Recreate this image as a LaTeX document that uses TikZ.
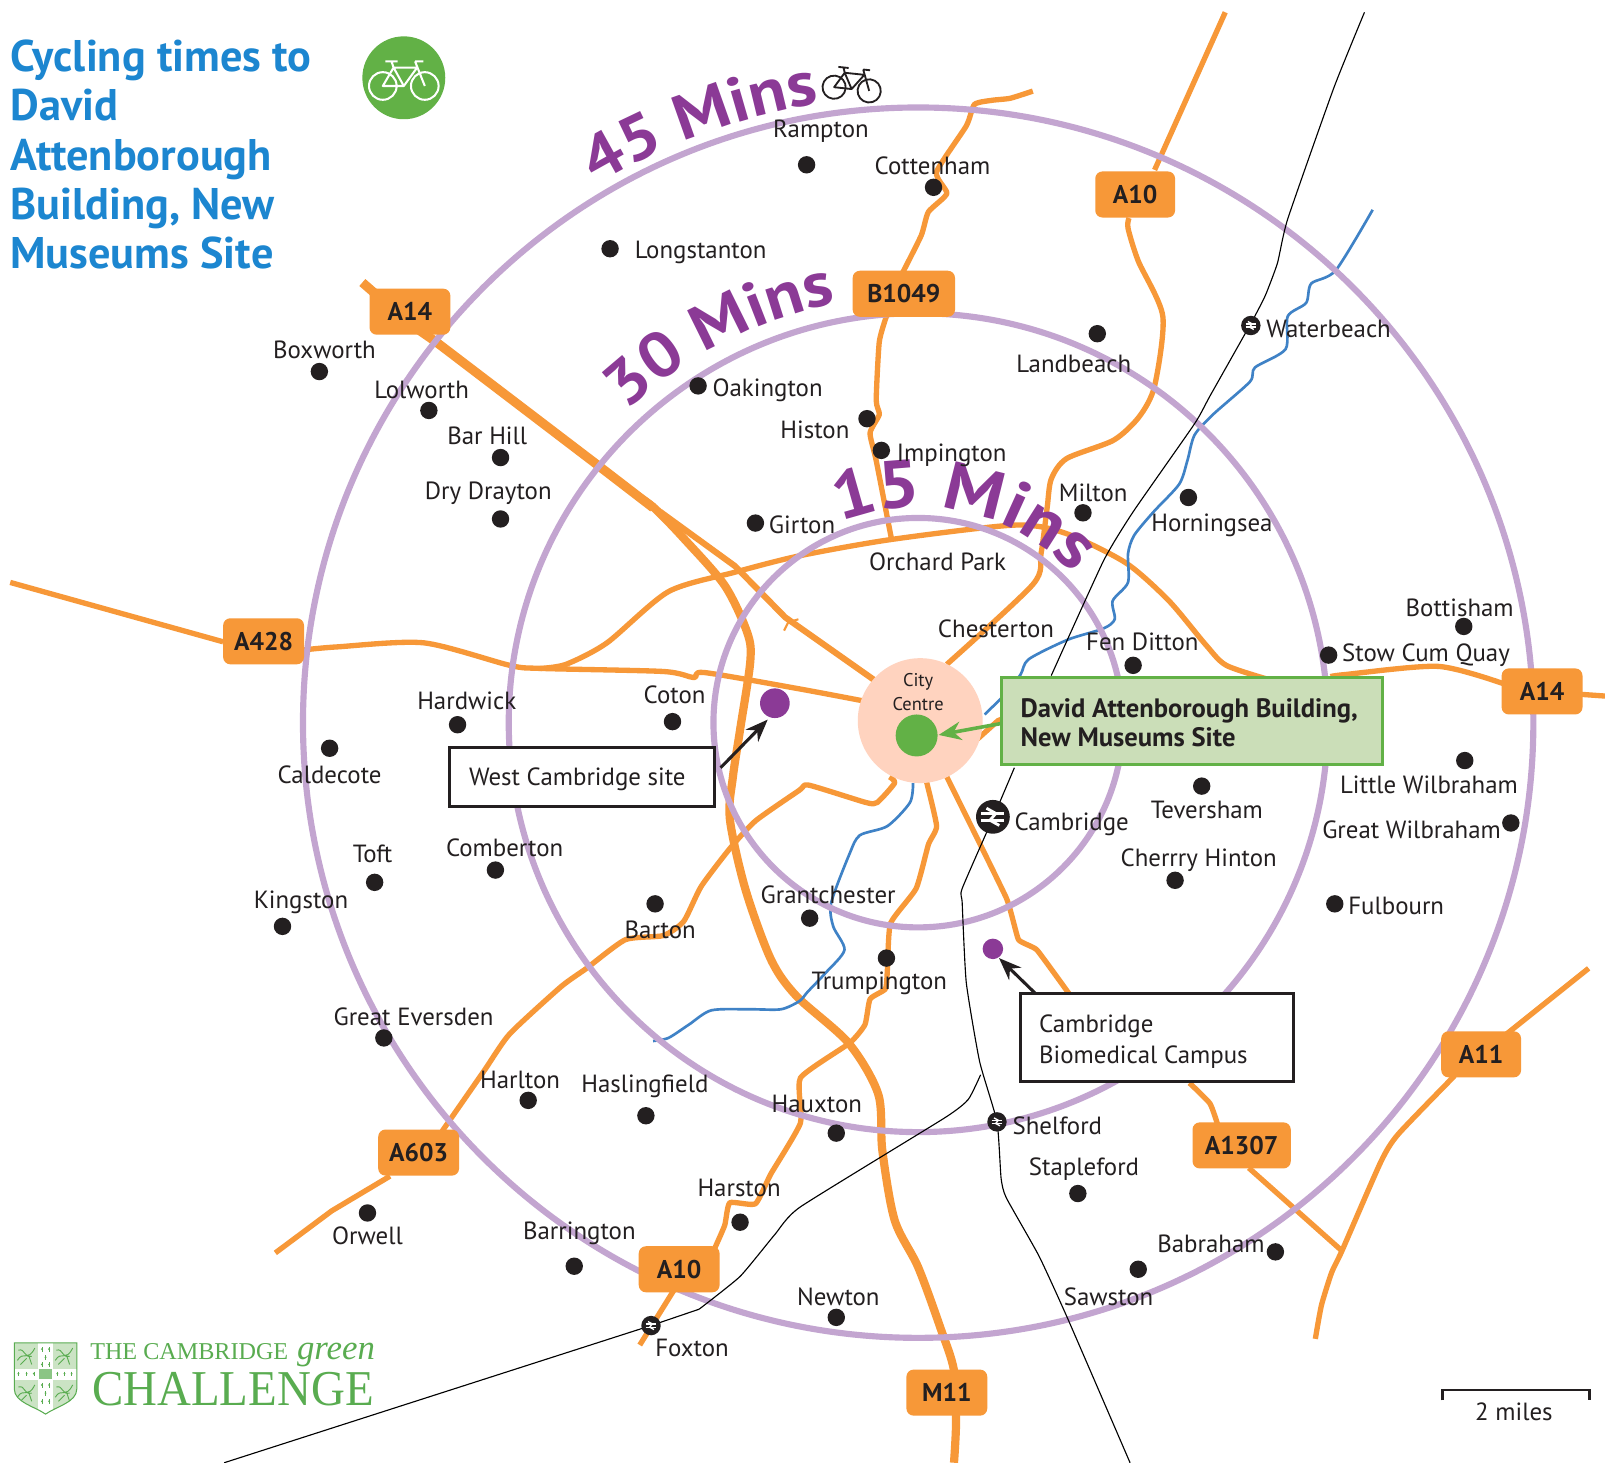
\documentclass[tikz,border=0pt]{standalone}
\usepackage{fontspec}
\usepackage{graphicx}
\setmainfont{PT Sans}
\newfontfamily\logofont{Liberation Serif}
\newfontfamily\arcfont[FakeStretch=1.1]{PT Sans}
\usetikzlibrary{decorations.text,arrows.meta,calc}
\definecolor{roadc}{HTML}{F79838}
\definecolor{lav}{HTML}{C3A5D0}
\definecolor{riverc}{HTML}{3F82C6}
\definecolor{inkc}{HTML}{231F20}
\definecolor{purp}{HTML}{8B3A96}
\definecolor{titleb}{HTML}{1C86D0}
\definecolor{grn}{HTML}{62B146}
\definecolor{lgrn}{HTML}{CBDEB8}
\definecolor{peach}{HTML}{FFD3BF}
\definecolor{logog}{HTML}{59AC50}
\definecolor{logol}{HTML}{CBE3C4}
\tikzset{
  road/.style={draw=roadc,line width=5.2pt,line join=round},
  bigroad/.style={draw=roadc,line width=9pt,line join=round},
  ring/.style={draw=lav,line width=6pt},
  river/.style={draw=riverc,line width=2.6pt,line join=round},
  rail/.style={draw=black,line width=1.1pt,line join=round},
  town/.style={text=inkc,font=\fontsize{24.3}{26}\selectfont,inner sep=0pt,yshift=-1.5pt},
  tdotm/.style={circle,fill=inkc,minimum size=17pt,inner sep=0pt},
  shieldbox/.style={fill=roadc,rounded corners=7pt,text=inkc,font=\fontsize{25}{26}\selectfont\bfseries,inner sep=0pt,minimum height=45pt},
  callout/.style={draw=inkc,fill=white,line width=3pt,inner sep=0pt,text=inkc},
  leader/.style={draw=inkc,line width=3pt,-{Stealth[length=22pt,width=17pt]}},
  purpdot/.style={circle,fill=purp,inner sep=0pt},
  stn/.style={circle,fill=inkc,inner sep=0pt},
  pics/bike/.style={code={
    \draw[line width=#1] (-20.5,0) circle (13.5) (20.5,0) circle (13.5);
    \draw[line width=#1,line join=round] (-20.5,0) -- (-10,-18) -- (0,0) -- cycle
       (-10,-18) -- (13,-18) -- (0,0)
       (-12,-24) -- (-10,-18) (-18,-24) -- (-6,-24)
       (11,-24) -- (20.5,0) (11,-24) -- (19,-24);
  }},
  pics/brsym/.style={code={
    \draw[draw=white,line width=0.2*#1 pt] (-.8*#1,-.24*#1) -- (.8*#1,-.24*#1) (-.8*#1,.24*#1) -- (.8*#1,.24*#1);
    \draw[draw=white,line width=0.2*#1 pt,line join=miter] (-.45*#1,-.6*#1) -- (.2*#1,-.24*#1) -- (-.2*#1,.24*#1) -- (.45*#1,.6*#1);
  }}
}
\newcommand\twn[6]{% name, dot x, dot y, anchor, label pos, text
  \node[tdotm] (d#1) at (#2,#3) {};
  \node[town,anchor=#4] (t#1) at (#5) {#6};
}
\newcommand\stnlabel[5]{% name, anchor, x, y, text
  \node[town,anchor=#2] (#1) at (#3,#4) {#5};
}
\begin{document}
\begin{tikzpicture}[x=1pt,y=-1pt]
\useasboundingbox (0,0) rectangle (1568,1429);
\fill[white] (0,0) rectangle (1568,1429);

% ---------- roads
\draw[road] plot[smooth,tension=.45] coordinates {(10,569) (218,627)};
\draw[road] plot[smooth,tension=.45] coordinates {(296,635) (329,632) (414,628) (498,650) (528,653) (648,656) (678,662) (688,657) (781,673) (850,686)};
\draw[road] plot[smooth,tension=.45] coordinates {(528,653) (553,649) (593,628) (653,578) (718,559) (781,543) (871,527) (991,513) (1041,521) (1100,550) (1142,587) (1178,630) (1198,650) (1240,664)};
\draw[road] plot[smooth,tension=.45] coordinates {(1300,661) (1314,659) (1405,651) (1469,668)};
\draw[road] (1540,678) -- (1568,680);
\draw[road,line width=6pt] (645,500) -- (718,553) -- (767,603) -- (855,665);
\draw[road,line width=2pt] (780,605) -- (770,608) -- (766,616);
\draw[bigroad] (354,276) -- (400,316) -- (426,334) -- (586,456) -- (638,496);
\draw[bigroad,line width=8pt] plot[smooth,tension=.5] coordinates {(625,486) (640,497) (668,526) (708,572) (730,618) (733,646) (723,713) (716,759) (713,800) (728,868) (753,937) (778,973) (829,1019) (858,1069) (862,1124) (874,1192) (897,1238) (919,1298) (932,1339) (934,1389) (932,1429)};
% B1049
\draw[road] plot[smooth,tension=.35] coordinates {(1009,89) (987,96) (969,98) (952,102) (944,123) (915,168) (925,189) (907,207) (900,230) (882,266)};
\draw[road] plot[smooth,tension=.35] coordinates {(866,309) (859,334) (856,391) (859,405) (850,423) (856,450) (871,527)};
% A10 N
\draw[road] (1197,12) -- (1128,166);
\draw[road] plot[smooth,tension=.45] coordinates {(1103,213) (1102,223) (1112,255) (1136,309) (1128,377) (1113,407) (1088,430) (1042,448) (1027,468) (1023,496) (1017,541) (1009,571) (925,649)};
\draw[road] (955,722) -- (975,704) -- (985,700);
% S1 + A603
\draw[road] plot[smooth,tension=.35] coordinates {(869,759) (874,765) (857,784) (846,784) (790,767) (781,772) (738,802) (713,829) (685,866) (668,900) (648,914) (611,918) (573,946) (548,964) (498,1010) (473,1046) (432,1105)};
\draw[road] (381,1149) -- (324,1183) -- (269,1224);
% S2 + A10 S
\draw[road] plot[smooth,tension=.3] coordinates {(905,763) (915,807) (907,825) (895,868) (870,902) (867,946) (865,966) (850,976) (845,1001) (830,1019) (782,1053) (782,1097) (753,1147) (738,1176) (713,1175) (708,1197) (698,1220)};
\draw[road] (658,1261) -- (625,1314);
% A1307
\draw[road] plot[smooth,tension=.2] coordinates {(925,759) (983,877) (995,918) (1013,928) (1046,973)};
\draw[road] plot[smooth,tension=.3] coordinates {(1162,1058) (1182,1078) (1190,1100)};
\draw[road] (1220,1141) -- (1311,1222);
% A11
\draw[road] (1552,946) -- (1472,1010);
\draw[road] plot[smooth,tension=.35] coordinates {(1421,1051) (1366,1108) (1349,1135) (1311,1222) (1301,1243) (1291,1275) (1285,1308)};

% ---------- river
\draw[river] plot[smooth,tension=.45] coordinates {(1341,205) (1305,264) (1281,277) (1276,296) (1258,309) (1256,341) (1226,359) (1221,373) (1185,405) (1167,425) (1160,450) (1152,473) (1127,500) (1108,523) (1102,541) (1102,569) (1087,587) (1089,605) (1078,614) (1043,625) (1005,644) (997,659) (982,678) (962,698)};
\draw[river] plot[smooth,tension=.45] coordinates {(892,765) (889,784) (867,807) (840,816) (830,834) (812,882) (814,905) (825,928) (807,950) (789,969) (781,978) (763,986) (733,986) (695,987) (673,1001) (653,1014) (638,1017)};

% ---------- rings
\path (897,706) coordinate (hub);
\draw[ring] (hub) circle (601);
\draw[ring] (hub) circle (400);
\draw[ring] (hub) circle (200);

% ---------- railways
\draw[rail] plot[smooth,tension=.3] coordinates {(1333,12) (1303,86) (1258,214) (1248,257) (1236,289) (1222,316) (1182,387) (1167,414) (1107,500) (1078,548) (1027,660)};
\draw[rail] plot[smooth,tension=.3] coordinates {(991,750) (971,797) (940,868) (940,882) (944,960) (957,1037) (974,1096) (978,1151) (983,1170) (1015,1227) (1043,1288) (1104,1429)};
\draw[rail] plot[smooth,tension=.3] coordinates {(958,1050) (946,1074) (923,1092) (782,1179) (757,1206) (723,1247) (683,1279)};
\draw[rail] (683,1279) -- (636,1295) -- (219,1429);

% ---------- time labels along the rings
\path[decorate,decoration={text along path,text align={left},text={|\arcfont\fontsize{62}{62}\selectfont\bfseries\color{purp}|45 Mins}}]
   (hub) ++(-314.6,-525.3) arc[start angle=-120.9,end angle=-90,radius=612.3];
\path[decorate,decoration={text along path,text align={left},text={|\arcfont\fontsize{62}{62}\selectfont\bfseries\color{purp}|30 Mins}}]
   (hub) ++(-285,-305) arc[start angle=-133,end angle=-90,radius=417.5];
\path[decorate,decoration={text along path,text align={left},text={|\arcfont\fontsize{66}{66}\selectfont\bfseries\color{purp}|15 Mins}}]
   (hub) ++(-77,-196) arc[start angle=-111.4,end angle=-30,radius=210.6];

% ---------- towns
\twn{ramp}{788}{161}{center}{802,127}{Rampton}
\twn{cott}{912}{183}{center}{911,160}{Cottenham}
\twn{long}{596}{243}{west}{620,245}{Longstanton}
\twn{box}{312}{363}{center}{317,340}{Boxworth}
\twn{lol}{419}{401}{center}{412,379}{Lolworth}
\twn{bar}{489}{447}{center}{476,424}{Bar Hill}
\twn{dry}{489}{507}{center}{477,480}{Dry Drayton}
\twn{oak}{682}{377}{west}{696,380}{Oakington}
\twn{his}{847}{409}{east}{830,418}{Histon}
\twn{imp}{861}{440}{west}{876,443}{Impington}
\twn{gir}{738}{511}{west}{751,511}{Girton}
\twn{land}{1072}{326}{center}{1049,354}{Landbeach}
\twn{mil}{1058}{501}{center}{1068,480}{Milton}
\twn{horn}{1161}{486}{center}{1184,512}{Horningsea}
\twn{fen}{1107}{650}{center}{1116,626}{Fen Ditton}
\twn{bott}{1430}{612}{center}{1426,592}{Bottisham}
\twn{stow}{1298}{640}{west}{1311,639}{Stow Cum Quay}
\twn{hard}{447}{708}{center}{456,683}{Hardwick}
\twn{cot}{657}{705}{center}{659,677}{Coton}
\twn{cald}{322}{731}{center}{322,755}{Caldecote}
\twn{lwil}{1431}{743}{center}{1396,765}{Little Wilbraham}
\twn{gwil}{1476}{804}{center}{1379,809}{Great Wilbraham}
\twn{tev}{1174}{768}{center}{1179,790}{Teversham}
\twn{cher}{1148}{860}{center}{1171,839}{Cherrry Hinton}
\twn{ful}{1304}{883}{west}{1317,884}{Fulbourn}
\twn{toft}{366}{862}{center}{364,833}{Toft}
\twn{com}{484}{850}{center}{493,827}{Comberton}
\twn{king}{276}{905}{center}{294,880}{Kingston}
\twn{bart}{640}{883}{center}{645,907}{Barton}
\twn{gran}{791}{897}{center}{809,873}{Grantchester}
\twn{trum}{866}{936}{center}{859,959}{Trumpington}
\twn{ever}{375}{1014}{center}{404,992}{Great Eversden}
\twn{harl}{516}{1075}{center}{508,1054}{Harlton}
\twn{hasl}{631}{1090}{center}{630,1060}{Haslingfield}
\twn{haux}{817}{1107}{center}{798,1077}{Hauxton}
\twn{stap}{1053}{1166}{center}{1059,1141}{Stapleford}
\twn{hars}{723}{1194}{center}{722,1159}{Harston}
\twn{barr}{561}{1237}{center}{566,1203}{Barrington}
\twn{orw}{359}{1185}{center}{359,1206}{Orwell}
\twn{bab}{1246}{1223}{center}{1183,1214}{Babraham}
\twn{saw}{1112}{1240}{center}{1083,1265}{Sawston}
\twn{new}{817}{1287}{center}{819,1265}{Newton}
\stnlabel{torch}{center}{916}{547}{Orchard Park}
\stnlabel{tchest}{center}{973}{613}{Chesterton}

% ---------- stations
\node[stn,minimum size=19pt] (swat) at (1222,318) {};
\pic at (swat) {brsym=6.5};
\stnlabel{twat}{west}{1237}{320}{Waterbeach}
\node[stn,minimum size=33pt] (scam) at (970,798) {};
\pic at (scam) {brsym=14};
\stnlabel{tcam}{west}{991}{804}{Cambridge}
\node[stn,minimum size=19pt] (ssh) at (974,1096) {};
\pic at (ssh) {brsym=6.5};
\stnlabel{tshe}{west}{989}{1098}{Shelford}
\node[stn,minimum size=19pt] (sfox) at (636,1295) {};
\pic at (sfox) {brsym=6.5};
\stnlabel{tfox}{west}{640}{1315}{Foxton}

% ---------- road shields
\node[shieldbox,minimum width=79pt] (a14n) at (400.5,304.5) {A14};
\node[shieldbox,minimum width=79pt] (a428) at (257.5,626.5) {A428};
\node[shieldbox,minimum width=100pt] (b1049) at (883,287) {B1049};
\node[shieldbox,minimum width=78pt] (a10n) at (1109,190) {A10};
\node[shieldbox,minimum width=79pt] (a14e) at (1506.5,675.5) {A14};
\node[shieldbox,minimum width=79pt] (a603) at (409,1126) {A603};
\node[shieldbox,minimum width=79pt] (a10s) at (663.5,1240) {A10};
\node[shieldbox,minimum width=79pt] (m11) at (925,1360.5) {M11};
\node[shieldbox,minimum width=96pt] (a1307) at (1213,1119) {A1307};
\node[shieldbox,minimum width=78pt] (a11) at (1447,1030) {A11};

% ---------- city centre
\node[circle,fill=peach,minimum size=122pt,inner sep=0pt] (city) at (899,704) {};
\node[text=inkc,font=\fontsize{18}{23}\selectfont,align=center,inner sep=0pt] (cityt) at (897,676) {City\\Centre};
\node[circle,fill=grn,minimum size=41pt,inner sep=0pt] (dab) at (895.5,718.5) {};

% ---------- sites
\node[purpdot,minimum size=29pt] (wdot) at (757,687) {};
\node[purpdot,minimum size=20pt] (bdot) at (970,927) {};
\coordinate (wfrom) at (704,750);
\coordinate (wto) at (750,703);
\coordinate (bfrom) at (1012,971);
\coordinate (bto) at (976,936);
\draw[leader] (wfrom) -- (wto);
\draw[leader] (bfrom) -- (bto);
\node[callout,minimum width=259pt,minimum height=58pt] (wbox) at (568.5,759) {};
\node[town,anchor=west] (wtext) at (458,760) {West Cambridge site};
\node[callout,minimum width=267pt,minimum height=86pt] (bbox) at (1130.5,1014) {};
\node[town,anchor=west,align=left,font=\fontsize{24.3}{30}\selectfont] (btext) at (1015,1016) {Cambridge\\Biomedical Campus};
\node[draw=grn,fill=lgrn,line width=3pt,minimum width=373pt,minimum height=85pt,inner sep=0pt] (dbox) at (1164.5,704.5) {};
\node[anchor=west,align=left,inner sep=0pt,text=inkc,font=\fontsize{26}{29}\selectfont\bfseries] (dtext) at (997,706) {David Attenborough Building,\\New Museums Site};
\coordinate (dfrom) at (977,707);
\coordinate (dto) at (917,718);
\draw[draw=grn,line width=3.5pt,-{Stealth[length=22pt,width=18pt]}] (dfrom) -- (dto);

% ---------- title
\node[anchor=north west,align=left,inner sep=0pt,text=titleb,font=\fontsize{43.3}{48}\selectfont\bfseries] (title) at (10,39) {Cycling times to\\David\\Attenborough\\Building, New\\Museums Site};
\node[circle,fill=grn,minimum size=81pt,inner sep=0pt] (bikec) at (394.5,76) {};
\pic[draw=white] at (394.5,84) {bike=2pt};
\pic[draw=inkc,scale=.84,rotate=-6] at (832,87) {bike=1.8pt};

% ---------- scale
\draw[draw=inkc,line width=2.5pt] (1409,1368) -- (1409,1358) -- (1553,1358) -- (1553,1368);
\node[town] (miles) at (1479,1378) {2 miles};

% ---------- logo
\begin{scope}
\path[clip] (14,1312) -- (75,1312) -- (75,1357) .. controls (75,1370) and (55,1374) .. (44.5,1381.5) .. controls (34,1374) and (14,1370) .. (14,1357) -- cycle;
\fill[logol] (14,1312) rectangle (75,1385);
\fill[white] (37.5,1312) rectangle (51.5,1385);
\fill[white] (14,1337) rectangle (75,1348);
\fill[logog!70] (38.5,1337.5) rectangle (50.5,1347.5);
\foreach \ox/\oy in {17/1315,54/1315,17/1351,54/1351}{
  \draw[logog,line width=.9pt,line join=round] (\ox,\oy+14) .. controls (\ox+6,\oy+4) and (\ox+10,\oy+16) .. (\ox+17,\oy+2)
     (\ox+1,\oy+4) .. controls (\ox+8,\oy+2) and (\ox+6,\oy+12) .. (\ox+14,\oy+10)
     (\ox+3,\oy+18) -- (\ox+9,\oy+12) (\ox+14,\oy+18) -- (\ox+11,\oy+9);
}
\foreach \ex/\ey in {41/1318,48/1318,44.5/1326,41/1333,48/1333,18/1342,26/1342,33/1342,56/1342,63/1342,70/1342,41/1353,48/1353,44.5/1361,41/1369,48/1369}{
  \fill[logog] (\ex,\ey) circle (1);
  \draw[logog,line width=.5pt] (\ex,\ey-2) -- (\ex,\ey+2.5);
}
\end{scope}
\path[draw=logog,line width=1pt] (14,1312) -- (75,1312) -- (75,1357) .. controls (75,1370) and (55,1374) .. (44.5,1381.5) .. controls (34,1374) and (14,1370) .. (14,1357) -- cycle;
\node[anchor=base west,inner sep=0pt,text=logog,font=\logofont\fontsize{23.6}{26}\selectfont] (lg1) at (88,1328) {THE CAMBRIDGE};
\node[anchor=base west,inner sep=0pt,text=logog,font=\logofont\itshape\fontsize{34}{34}\selectfont] (lg2) at (290,1328) {green};
\node[anchor=base west,inner sep=0pt,text=logog,font=\logofont\fontsize{49}{50}\selectfont] (lg3) at (90,1373) {\scalebox{.935}[1]{CHALLENGE}};
\end{tikzpicture}
\end{document}
